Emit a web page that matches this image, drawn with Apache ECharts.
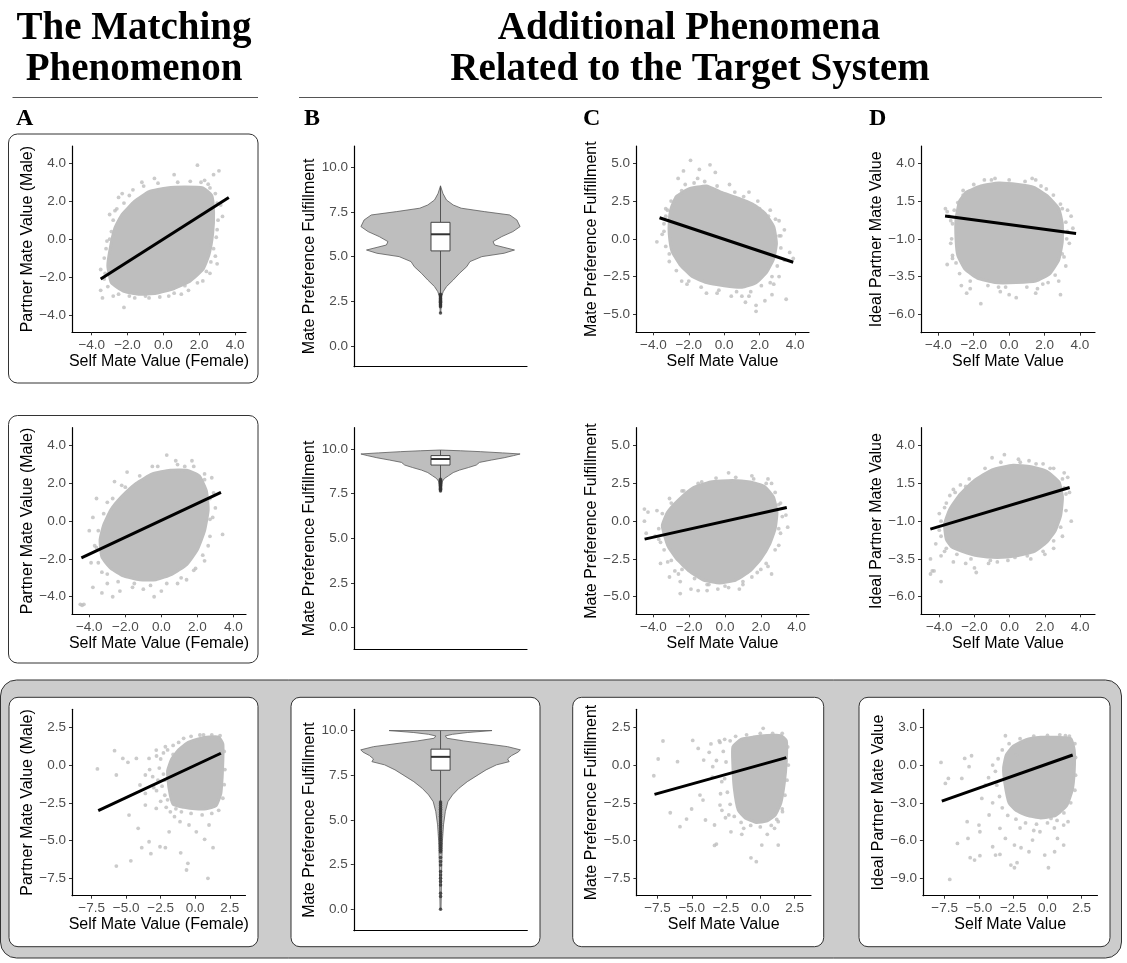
<!DOCTYPE html>
<html><head><meta charset="utf-8">
<script src="https://cdn.jsdelivr.net/npm/echarts@6/dist/echarts.min.js"></script>
<style>html,body{margin:0;padding:0;background:#fff}#c{width:1127px;height:963px}</style>
</head><body><div id="c"></div>
<script>
// ---------- tick labels ----------
const ticksMV4 = [-4, -2, 0, 2, 4];
const ticksMPF5 = [-5, -2.5, 0, 2.5, 5];
const ticksIPMV = [-6, -3.5, -1, 1.5, 4];
const ticksMPF10 = [0, 2.5, 5, 7.5, 10];
const ticksMV25 = [-7.5, -5, -2.5, 0, 2.5];
const ticksIPMV3 = [-9, -6, -3, 0, 3];

// ---------- axis titles ----------
const nameSelfF = 'Self Mate Value (Female)';
const namePartnerM = 'Partner Mate Value (Male)';
const nameSelf = 'Self Mate Value';
const nameMPF = 'Mate Preference Fulfillment';
const nameIPMV = 'Ideal Partner Mate Value';

// ---------- row 1 ----------
const A1_hull = [[-2.9,-2.3],[-3.1,-1.4],[-2.95,-0.4],[-2.7,0.6],[-2.3,1.3],[-1.6,2.0],[-0.8,2.5],[0.2,2.7],[1.2,2.75],[2.2,2.7],[2.7,2.3],[2.8,1.4],[2.75,0.3],[2.55,-0.8],[2.2,-1.6],[1.5,-2.2],[0.6,-2.6],[-0.4,-2.85],[-1.4,-2.9],[-2.2,-2.75]];
const A1_pts = [[3.1,3.6],[2.8,3.4],[2.3,3.1],[1.9,3.9],[0.6,3.4],[-0.5,3.2],[-1.2,3.0],[-1.7,2.6],[-2.5,2.2],[-2.7,1.5],[-3.0,1.3],[3.3,1.2],[3.2,1.8],[3.0,0.5],[2.9,-0.9],[2.6,-1.8],[2.2,-2.2],[1.4,-2.7],[0.3,-3.0],[-0.8,-3.1],[-1.6,-3.1],[-2.2,-3.6],[-2.8,-3.0],[-3.4,-3.1],[-3.5,-2.7],[-3.3,-2.1],[-3.5,-1.6],[-3.2,-0.5],[-3.0,0.0],[1.0,-2.9],[3.0,-1.3],[2.5,2.9],
  [-2.6,1.6],[-2.2,1.9],[-1.9,2.3],[-1.1,2.8],[-0.3,2.95],[0.8,3.0],[1.5,3.05],[2.1,3.0],[2.6,2.7],[2.9,2.4],[3.0,1.9],[3.05,1.0],[2.95,0.1],[2.8,-0.5],[2.65,-1.2],[2.4,-1.7],[1.9,-2.3],[1.2,-2.45],[0.6,-2.85],[-0.2,-3.05],[-1.0,-3.0],[-1.9,-3.0],[-2.5,-2.9],[-3.1,-2.5],[-3.25,-1.8],[-3.3,-1.0],[-3.15,-0.1],[-2.9,0.4],[-2.8,1.0],[-2.3,2.4]];
const A1_fit = [[-3.5,-2.1],[3.65,2.2]];

const B1_density = [[8.96,0],[8.54,0.03],[8.17,0.075],[7.89,0.16],[7.71,0.26],[7.52,0.55],[7.33,0.87],[7.05,0.96],[6.68,1.0],[6.4,0.91],[6.12,0.77],[5.84,0.66],[5.65,0.68],[5.37,0.93],[5.19,0.8],[5.0,0.52],[4.72,0.37],[4.44,0.33],[4.07,0.24],[3.69,0.16],[3.32,0.075],[3.04,0.034],[2.76,0.013],[1.85,0.004]];
const B1_box = [2.92, 5.32, 6.25, 6.92, 8.96];
const B1_out = [2.9,2.85,2.8,2.75,2.7,2.65,2.6,2.55,2.5,2.45,2.4,2.35,2.3,2.25,2.2,1.85];

const C1_hull = [[-3.0,2.0],[-2.7,2.8],[-2.0,3.3],[-1.0,3.5],[-0.2,3.1],[0.8,2.7],[1.6,2.3],[2.3,1.7],[2.8,0.8],[2.95,-0.3],[2.8,-1.3],[2.4,-2.2],[1.8,-2.9],[1.0,-3.2],[0.0,-3.1],[-1.0,-2.9],[-1.8,-2.5],[-2.5,-1.7],[-2.95,-0.8],[-3.1,0.3],[-3.1,1.2]];
const C1_pts = [[-1.9,5.2],[-0.8,4.9],[-0.5,4.4],[-1.4,4.6],[-2.3,4.5],[-2.6,4.0],[-1.5,4.0],[0.3,3.6],[1.4,3.1],[2.0,2.0],[2.6,1.9],[3.1,1.2],[3.4,0.6],[3.2,0.2],[3.7,-0.9],[3.9,-1.3],[3.4,-1.4],[3.1,-2.5],[2.8,-3.0],[2.7,-3.7],[2.3,-4.1],[1.8,-4.4],[1.8,-4.8],[1.2,-4.2],[0.4,-3.8],[-0.4,-3.6],[-1.0,-3.6],[-2.1,-3.0],[-2.4,-2.8],[-3.1,-1.0],[-3.8,-0.2],[-3.5,0.3],[-3.4,1.0],[-3.2,1.9],[-3.3,2.0],[3.5,-4.0],[1.0,-3.8],
  [-3.3,1.5],[-3.0,2.5],[-2.4,3.2],[-1.7,3.7],[-1.1,3.8],[-0.4,3.5],[0.6,3.1],[1.1,2.8],[1.9,2.5],[2.5,1.5],[2.9,1.3],[3.1,0.2],[3.2,-0.6],[3.0,-1.8],[2.7,-2.5],[2.1,-3.1],[1.5,-3.5],[0.7,-3.5],[-0.3,-3.4],[-1.3,-3.2],[-2.0,-2.8],[-2.7,-2.1],[-3.1,-1.5],[-3.3,-0.5],[-3.4,0.5],[-2.2,3.6],[2.6,-2.9],[1.4,-3.8]];
const C1_fit = [[-3.65,1.4],[3.9,-1.55]];

const D1_hull = [[-2.8,1.5],[-2.4,2.1],[-1.6,2.5],[-0.6,2.7],[0.5,2.6],[1.4,2.4],[2.2,1.8],[2.8,1.0],[3.0,0.0],[3.0,-1.2],[2.8,-2.4],[2.3,-3.3],[1.5,-3.8],[0.4,-3.9],[-0.8,-3.9],[-1.8,-3.6],[-2.5,-3.0],[-2.9,-2.1],[-3.0,-1.0],[-3.0,0.3]];
const D1_pts = [[-1.4,2.9],[-0.8,3.0],[1.3,3.0],[1.5,2.9],[2.1,2.3],[2.9,1.3],[3.3,0.9],[3.5,0.5],[3.6,-0.3],[3.3,-0.5],[3.4,-1.3],[3.0,-2.0],[3.2,-2.8],[2.8,-3.8],[2.9,-4.7],[1.6,-4.3],[1.5,-4.6],[0.4,-4.9],[-0.6,-4.2],[-1.6,-5.3],[-2.2,-4.3],[-2.4,-4.6],[-2.7,-4.1],[-3.0,-2.6],[-3.5,-2.7],[-3.2,-2.1],[-3.3,-1.3],[-3.3,0.2],[-3.4,0.5],[-3.6,1.0],[-3.5,0.8],[-2.6,1.9],[0.0,-4.7],
  [-2.9,1.4],[-2.6,2.2],[-2.0,2.6],[-1.0,2.9],[0.0,2.9],[0.9,2.8],[1.8,2.5],[2.5,1.9],[3.0,1.0],[3.2,0.1],[3.25,-1.0],[3.1,-2.2],[2.6,-3.4],[1.9,-4.0],[1.0,-4.2],[-0.2,-4.2],[-1.2,-4.1],[-2.2,-3.8],[-2.8,-3.3],[-3.2,-2.3],[-3.25,-1.0],[-3.2,0.0],[-3.1,0.9],[2.2,-3.9],[-0.5,-4.5]];
const D1_fit = [[-3.62,0.51],[3.78,-0.64]];

// ---------- row 2 ----------
const A2_hull = [[-3.3,-1.9],[-3.4,-1.0],[-3.2,-0.2],[-2.8,0.6],[-2.2,1.3],[-1.4,2.0],[-0.5,2.5],[0.5,2.7],[1.4,2.7],[2.1,2.4],[2.5,1.6],[2.6,0.6],[2.4,-0.5],[2.0,-1.5],[1.4,-2.3],[0.6,-2.8],[-0.3,-3.1],[-1.2,-3.1],[-2.1,-2.9],[-2.8,-2.5]];
const A2_pts = [[0.3,3.5],[0.8,3.2],[1.7,3.2],[1.3,2.9],[-0.5,2.9],[-1.9,2.6],[-2.6,2.1],[-2.2,1.9],[2.4,2.5],[2.8,2.3],[2.9,1.5],[3.0,0.7],[2.7,0.1],[3.4,-0.7],[2.6,-1.3],[2.4,-2.1],[1.9,-2.5],[1.4,-3.1],[0.9,-3.3],[0.0,-3.7],[-0.4,-4.0],[-1.0,-3.6],[-1.6,-3.5],[-2.3,-3.7],[-2.7,-4.0],[-3.0,-3.3],[-3.8,-3.5],[-3.3,-2.7],[-3.7,-1.3],[-4.0,-0.5],[-3.8,0.2],[-3.6,1.2],[-3.0,1.0],[-4.5,-4.4],[-4.4,-4.45],[-4.3,-4.4],
  [-3.5,-2.2],[-3.6,-1.4],[-3.5,-0.5],[-3.2,0.4],[-2.7,1.2],[-2.0,1.8],[-1.2,2.4],[-0.2,2.9],[0.9,3.0],[1.8,2.9],[2.4,2.2],[2.7,1.2],[2.85,0.2],[2.7,-0.8],[2.3,-1.8],[1.8,-2.6],[1.1,-3.0],[0.3,-3.3],[-0.6,-3.4],[-1.5,-3.3],[-2.4,-3.2],[-3.0,-2.8],[-3.9,-2.2],[-3.3,-3.8]];
const A2_fit = [[-4.44,-1.94],[3.31,1.52]];

const B2_density = [[9.94,0],[9.9,0.25],[9.85,0.5],[9.78,0.78],[9.72,1.0],[9.63,0.92],[9.51,0.8],[9.38,0.64],[9.25,0.49],[9.1,0.45],[8.96,0.35],[8.82,0.24],[8.68,0.16],[8.5,0.1],[8.35,0.05],[8.2,0.025],[7.65,0.006]];
const B2_box = [8.3, 9.1, 9.44, 9.63, 9.94];
const B2_out = [8.3,8.25,8.2,8.15,8.1,8.05,8.0,7.95,7.9,7.85,7.8,7.75,7.7,7.65];

const C2_hull = [[-3.5,-0.3],[-3.2,0.6],[-2.6,1.4],[-1.8,2.2],[-0.8,2.6],[0.4,2.7],[1.4,2.6],[2.2,2.3],[2.7,1.6],[2.9,0.6],[2.8,-0.5],[2.5,-1.5],[2.0,-2.5],[1.4,-3.3],[0.6,-3.9],[-0.3,-4.1],[-1.2,-3.9],[-2.0,-3.3],[-2.7,-2.5],[-3.2,-1.6]];
const C2_pts = [[0.2,3.2],[1.5,3.0],[2.4,2.8],[2.6,2.5],[-1.3,2.6],[-2.4,2.0],[-3.1,1.5],[-4.5,0.8],[-4.3,0.6],[-4.5,0.0],[-3.8,0.7],[-3.9,-1.0],[-4.4,-0.8],[-3.6,-1.4],[-3.6,-2.8],[-3.2,-2.7],[-3.1,-3.7],[-2.6,-3.5],[-2.5,-4.0],[-1.9,-4.5],[-1.5,-4.6],[-1.0,-4.2],[-0.4,-4.5],[0.2,-4.4],[1.0,-4.2],[1.5,-3.7],[2.0,-3.2],[2.4,-3.0],[2.6,-3.5],[3.0,-1.6],[3.0,-0.5],[3.5,-0.4],[3.4,0.4],[3.0,1.1],[-2.5,-4.8],
  [-3.7,-0.5],[-3.5,0.5],[-3.0,1.2],[-2.3,2.0],[-1.5,2.5],[-0.5,2.85],[0.6,2.9],[1.6,2.8],[2.3,2.5],[2.8,1.9],[3.1,1.2],[3.2,0.3],[3.1,-0.8],[2.8,-1.9],[2.3,-2.8],[1.8,-3.4],[1.0,-4.0],[0.0,-4.3],[-0.9,-4.2],[-1.7,-3.8],[-2.4,-3.2],[-3.0,-2.6],[-3.4,-1.9],[-3.7,-1.2],[-2.8,-3.3],[0.8,-4.5],[-1.0,-4.6]];
const C2_fit = [[-4.49,-1.19],[3.45,0.9]];

const D2_hull = [[-3.6,-2.2],[-3.7,-1.2],[-3.4,-0.2],[-2.8,0.8],[-2.0,1.7],[-1.0,2.4],[0.2,2.7],[1.2,2.6],[2.1,2.3],[2.8,1.6],[3.0,0.6],[2.9,-0.6],[2.6,-1.6],[2.1,-2.4],[1.4,-3.0],[0.4,-3.3],[-0.7,-3.4],[-1.8,-3.3],[-2.7,-3.0],[-3.3,-2.7]];
const D2_pts = [[-1.0,3.2],[-0.3,3.4],[0.5,3.1],[1.1,3.0],[1.9,2.8],[2.5,2.5],[3.1,2.2],[3.3,1.9],[3.1,1.2],[3.4,0.9],[3.5,-1.0],[3.0,-2.0],[2.5,-2.8],[1.2,-3.5],[0.3,-3.4],[-0.7,-3.7],[-1.2,-3.8],[-2.0,-4.1],[-1.9,-4.4],[-2.5,-3.8],[-3.2,-3.7],[-3.7,-3.0],[-4.2,-2.5],[-4.5,-3.5],[-4.5,-4.5],[-4.4,-4.3],[-4.3,-4.3],[-3.9,-5.0],[-3.9,-3.3],[-4.0,-1.6],[-4.0,-0.5],[-3.6,0.2],[-3.4,0.7],[-3.2,1.1],[-2.5,1.3],
  [-3.9,-2.0],[-3.9,-1.0],[-3.7,-0.1],[-3.1,0.9],[-2.3,1.8],[-1.4,2.5],[-0.5,2.9],[0.6,2.9],[1.5,2.8],[2.3,2.5],[3.0,1.8],[3.2,0.8],[3.2,-0.3],[2.9,-1.4],[2.5,-2.3],[1.9,-3.0],[1.0,-3.3],[-0.1,-3.6],[-1.1,-3.6],[-2.2,-3.5],[-3.0,-3.2],[-3.6,-2.8],[-2.8,1.4],[2.0,-3.2]];
const D2_fit = [[-4.51,-1.53],[3.41,1.23]];

// ---------- row 3 ----------
const A3_hull = [[-1.6,-2.6],[-1.9,-1.5],[-2.0,-0.4],[-1.7,0.4],[-1.2,1.0],[-0.5,1.5],[0.3,1.75],[1.0,1.85],[1.7,1.85],[2.0,1.4],[2.0,0.3],[1.95,-0.8],[1.85,-1.9],[1.5,-2.7],[0.8,-2.9],[0.0,-2.9],[-0.8,-2.8]];
const A3_pts = [[-7.08,-0.26],[-5.84,0.95],[-5.71,-0.66],[-5.24,0.44],[-4.87,0.18],[-4.26,0.44],[-4.79,-3.31],[-4.13,-4.19],[-3.87,-5.47],[-4.66,-6.34],[-5.71,-6.69],[-3.34,-5.08],[-2.55,-5.41],[-2.16,-5.47],[-3.21,-5.87],[-1.05,-5.81],[-0.63,-6.95],[-0.53,-6.51],[0.92,-7.5],[1.29,-5.47],[0.68,-4.92],[0.08,-4.42],[1.0,-3.97],[-0.45,-3.97],[-1.1,-3.75],[-1.89,-4.42],[-1.5,-3.42],[-2.82,-2.87],[-3.61,-2.65],[-4.0,-1.32],[-3.61,-1.88],[-3.08,-0.77],[-3.61,-0.66],[-3.34,0.44],[-2.82,0.99],[-2.16,1.21],[-0.84,1.77],[0.34,1.99],
  [-2.8,0.6],[-2.5,0.4],[-2.3,0.8],[-2.6,-0.2],[-2.3,-0.6],[-2.7,-1.0],[-2.4,-1.4],[-2.8,-1.7],[-2.2,-2.0],[-2.5,-2.4],[-2.1,-2.8],[-1.8,-3.1],[-2.0,1.0],[-1.6,1.3],[-1.2,1.5],[-0.3,1.9],[0.6,2.0],[1.2,2.0],[1.8,1.95],[2.1,0.9],[2.15,-0.3],[2.1,-1.3],[2.0,-2.2],[1.7,-3.0],[1.2,-3.2],[0.5,-3.3],[-0.3,-3.2],[-1.0,-3.1],[-1.4,-2.9],[-3.0,-1.5],[-3.3,-0.3],[-2.2,-1.0],[-2.0,-2.3],[-1.6,0.7]];
const A3_fit = [[-7.02,-3.02],[1.86,0.78]];

const B3_density = [[10.0,0.645],[9.89,0.335],[9.79,0.15],[9.7,0.06],[9.57,0.08],[9.42,0.29],[9.29,0.52],[9.1,0.84],[8.92,1.0],[8.79,0.97],[8.6,0.89],[8.41,0.84],[8.26,0.86],[8.08,0.7],[7.8,0.57],[7.52,0.47],[7.14,0.335],[6.77,0.23],[6.4,0.15],[6.02,0.092],[5.47,0.06],[4.72,0.037],[3.79,0.023],[2.5,0.015],[0.0,0.006]];
const B3_box = [6.0, 7.78, 8.53, 8.96, 10.0];
const B3_out = [6.0,5.9,5.8,5.7,5.6,5.5,5.4,5.3,5.2,5.1,5.0,4.9,4.8,4.7,4.6,4.5,4.4,4.3,4.2,4.1,4.0,3.9,3.8,3.7,3.6,3.5,3.4,3.3,3.2,2.89,2.67,2.48,2.11,1.92,1.74,1.55,1.36,0.9,0.71,0.0];

const C3_hull = [[-1.6,-3.0],[-1.9,-1.5],[-2.0,0.0],[-2.0,1.2],[-1.4,1.7],[-0.5,1.85],[0.5,1.95],[1.5,1.95],[1.9,1.6],[1.9,0.3],[1.75,-1.2],[1.5,-2.5],[1.1,-3.3],[0.5,-3.7],[-0.3,-3.8],[-1.1,-3.5]];
const C3_pts = [[-7.77,-0.71],[-7.1,1.59],[-7.45,0.4],[-6.04,0.22],[-6.57,-3.16],[-5.86,-4.08],[-5.38,-3.58],[-4.93,1.63],[-5.01,-2.91],[-4.4,-1.99],[-4.18,-2.32],[-3.34,-5.32],[-3.2,-5.23],[-4.0,-3.64],[-3.34,-3.97],[-2.54,-3.49],[-2.14,-4.42],[-1.35,-4.59],[-1.21,-4.19],[-0.68,-6.14],[-0.29,-6.4],[0.11,-5.3],[1.31,-5.3],[0.51,-4.59],[1.04,-4.19],[0.21,2.43],[-4.13,0.33],[-3.73,0.84],[-3.47,-0.11],[-4.53,1.1],[-2.94,1.5],[-2.81,-1.1],[-2.94,-2.65],[1.62,-3.09],[1.31,-3.75],
  [-3.0,1.6],[-2.6,1.7],[-2.2,1.6],[-1.8,1.9],[-1.0,2.0],[0.0,2.1],[0.9,2.1],[1.6,2.1],[2.0,1.2],[2.05,0.0],[1.95,-1.0],[1.8,-2.0],[1.6,-2.9],[1.2,-3.6],[0.8,-4.0],[0.0,-4.1],[-0.7,-4.0],[-1.4,-3.8],[-1.9,-3.4],[-2.2,-2.6],[-2.4,-1.8],[-2.6,-0.9],[-2.5,0.2],[-2.7,0.9],[-3.2,0.3],[-3.5,-0.8],[-2.9,-1.9],[-2.8,-3.0],[-3.6,1.4],[-2.3,-3.3]];
const C3_fit = [[-7.72,-1.94],[1.9,0.49]];

const D3_hull = [[-2.8,-3.0],[-3.1,-1.5],[-3.2,-0.2],[-3.0,0.8],[-2.5,1.5],[-1.6,2.0],[-0.5,2.2],[0.8,2.2],[1.7,2.1],[1.95,1.2],[1.95,-0.5],[1.8,-2.0],[1.4,-3.2],[0.6,-4.0],[-0.5,-4.2],[-1.5,-4.0],[-2.3,-3.6]];
const D3_pts = [[-7.77,0.21],[-7.45,-1.46],[-7.23,-1.06],[-7.13,-9.09],[-6.57,-6.23],[-6.25,-1.06],[-6.04,0.53],[-5.72,-0.13],[-5.54,0.74],[-5.86,-4.5],[-5.8,-5.83],[-5.64,-7.36],[-5.32,-7.55],[-4.93,-7.2],[-5.0,-4.77],[-4.93,-5.3],[-4.26,-3.97],[-4.0,-6.49],[-3.79,-7.15],[-3.47,-7.1],[-3.47,-5.03],[-3.07,-5.83],[-2.67,-7.95],[-2.41,-8.16],[-2.22,-7.76],[-2.41,-6.36],[-1.93,-6.57],[-1.35,-6.89],[-1.09,-5.96],[-0.55,-5.3],[-0.2,-7.15],[0.07,-8.16],[0.52,-6.89],[0.73,-5.83],[1.18,-6.36],[-3.07,2.33],[-2.27,0.79],[1.31,2.33],[-4.79,-2.65],[-4.53,-1.59],[0.26,-4.24],[1.18,-4.77],
  [-3.6,0.5],[-3.8,-0.5],[-3.7,-1.6],[-3.5,-2.5],[-3.3,-3.4],[-2.9,-4.0],[-2.3,-4.3],[-1.6,-4.6],[-0.8,-4.7],[0.0,-4.6],[0.7,-4.4],[1.2,-3.8],[1.7,-3.0],[2.0,-2.0],[2.05,-0.8],[2.05,0.6],[2.0,1.7],[1.6,2.3],[0.9,2.4],[0.0,2.35],[-1.0,2.3],[-2.0,2.1],[-2.8,1.7],[-3.3,1.2],[-4.0,0.0],[-4.3,-1.0],[-4.0,-3.0],[-2.0,-5.0],[-1.0,-5.2],[0.5,-5.0],[1.5,-4.5]];
const D3_fit = [[-7.71,-2.86],[1.84,0.8]];

// ---------- layout (positions / styles) ----------
const SANS = "'Liberation Sans', Arial, Helvetica, sans-serif";
const SERIF = "'Liberation Serif', 'Times New Roman', serif";
const PT = '#bebebe';

const panels = [
  {kind:'s', g:[72,146,174,186.3], x:[-5.10,4.61], y:[-4.91,4.91], xt:ticksMV4, yt:ticksMV4, xn:nameSelfF, yn:namePartnerM, hull:A1_hull, pts:A1_pts, fit:A1_fit},
  {kind:'v', g:[354,146,173,220.7], y:[-1.16,11.19], yt:ticksMPF10, yn:nameMPF, dens:B1_density, box:B1_box, out:B1_out},
  {kind:'s', g:[636,146,173,186.3], x:[-4.98,4.79], y:[-6.19,6.15], xt:ticksMV4, yt:ticksMPF5, xn:nameSelf, yn:nameMPF, hull:C1_hull, pts:C1_pts, fit:C1_fit},
  {kind:'s', g:[921,146,174,186.7], x:[-4.98,4.85], y:[-7.22,5.15], xt:ticksMV4, yt:ticksIPMV, xn:nameSelf, yn:nameIPMV, hull:D1_hull, pts:D1_pts, fit:D1_fit},

  {kind:'s', g:[72,427.7,174,186.6], x:[-4.96,4.70], y:[-4.93,4.95], xt:ticksMV4, yt:ticksMV4, xn:nameSelfF, yn:namePartnerM, hull:A2_hull, pts:A2_pts, fit:A2_fit},
  {kind:'v', g:[354,427.7,173,221.3], y:[-1.19,11.19], yt:ticksMPF10, yn:nameMPF, dens:B2_density, box:B2_box, out:B2_out},
  {kind:'s', g:[636,427.7,173,186.6], x:[-4.97,4.69], y:[-6.17,6.19], xt:ticksMV4, yt:ticksMPF5, xn:nameSelf, yn:nameMPF, hull:C2_hull, pts:C2_pts, fit:C2_fit},
  {kind:'s', g:[921,427.7,174,186.6], x:[-5.04,4.85], y:[-7.17,5.19], xt:ticksMV4, yt:ticksIPMV, xn:nameSelf, yn:nameIPMV, hull:D2_hull, pts:D2_pts, fit:D2_fit},

  {kind:'s', g:[72,709.3,173.5,186.4], x:[-8.92,3.64], y:[-8.65,3.69], xt:ticksMV25, yt:ticksMV25, xn:nameSelfF, yn:namePartnerM, hull:A3_hull, pts:A3_pts, fit:A3_fit},
  {kind:'v', g:[353.8,709.3,173.5,221.4], y:[-1.2,11.19], yt:ticksMPF10, yn:nameMPF, dens:B3_density, box:B3_box, out:B3_out},
  {kind:'s', g:[636.4,709.3,174.6,186.4], x:[-9.04,3.70], y:[-8.65,3.69], xt:ticksMV25, yt:ticksMV25, xn:nameSelf, yn:nameMPF, hull:C3_hull, pts:C3_pts, fit:C3_fit},
  {kind:'s', g:[922.9,709.3,174.6,186.4], x:[-9.09,3.65], y:[-10.38,4.43], xt:ticksMV25, yt:ticksIPMV3, xn:nameSelf, yn:nameIPMV, hull:D3_hull, pts:D3_pts, fit:D3_fit}
];

const fmt = v => (v < 0 ? '\u2212' : '') + Math.abs(v).toFixed(1);
const VMAX = 0.92, BOXW = 0.11;

const grids = [], xAxes = [], yAxes = [], series = [];
panels.forEach((P, i) => {
  grids.push({left:P.g[0], top:P.g[1], width:P.g[2], height:P.g[3]});
  const isV = P.kind === 'v';
  xAxes.push({
    type:'value', gridIndex:i, min: isV ? -1 : P.x[0], max: isV ? 1 : P.x[1],
    axisLine:{onZero:false, lineStyle:{color:'#000', width:1.2}},
    axisTick:{show:!isV, length:3, lineStyle:{color:'#333', width:1}, customValues: isV ? undefined : P.xt},
    axisLabel:{show:!isV, margin:6, color:'#4d4d4d', fontSize:13.5, fontFamily:SANS, formatter:fmt, customValues: isV ? undefined : P.xt},
    splitLine:{show:false},
    name: isV ? '' : P.xn, nameLocation:'middle', nameGap:21,
    nameTextStyle:{color:'#000', fontSize:16, fontFamily:SANS}
  });
  yAxes.push({
    type:'value', gridIndex:i, min:P.y[0], max:P.y[1],
    axisLine:{onZero:false, lineStyle:{color:'#000', width:1.2}},
    axisTick:{show:true, length:3, lineStyle:{color:'#333', width:1}, customValues:P.yt},
    axisLabel:{margin:6, color:'#4d4d4d', fontSize:13.5, fontFamily:SANS, formatter:fmt, customValues:P.yt},
    splitLine:{show:false},
    name:P.yn, nameLocation:'middle', nameGap:36,
    nameTextStyle:{color:'#000', fontSize:16, fontFamily:SANS}
  });
  if (!isV) {
    series.push({type:'custom', xAxisIndex:i, yAxisIndex:i, silent:true, z:2,
      data:[P.hull[0]],
      renderItem:(p, api) => ({type:'polygon', shape:{points:P.hull.map(q => api.coord(q)), smooth:0.15},
        style:{fill:PT, stroke:PT, lineWidth:3}})});
    series.push({type:'scatter', xAxisIndex:i, yAxisIndex:i, silent:true, z:3,
      data:P.pts, symbolSize:3.8, itemStyle:{color:PT}});
    series.push({type:'line', xAxisIndex:i, yAxisIndex:i, silent:true, z:4,
      data:P.fit, symbol:'none', lineStyle:{color:'#000', width:3}});
  } else {
    series.push({type:'custom', xAxisIndex:i, yAxisIndex:i, silent:true, z:2,
      data:[[0, P.dens[0][0]]],
      renderItem:(p, api) => {
        const right = P.dens.map(d => api.coord([d[1]*VMAX, d[0]]));
        const left = P.dens.slice().reverse().map(d => api.coord([-d[1]*VMAX, d[0]]));
        return {type:'polygon', shape:{points:right.concat(left)},
          style:{fill:'#bebebe', stroke:'#5a5a5a', lineWidth:0.8}};
      }});
    series.push({type:'custom', xAxisIndex:i, yAxisIndex:i, silent:true, z:3,
      data:[[0, P.box[2]]],
      renderItem:(p, api) => {
        const b = P.box;
        const tl = api.coord([-BOXW, b[3]]), br = api.coord([BOXW, b[1]]);
        const mL = api.coord([-BOXW, b[2]]), mR = api.coord([BOXW, b[2]]);
        const lo = api.coord([0, b[0]]), q1 = api.coord([0, b[1]]), q3 = api.coord([0, b[3]]), hi = api.coord([0, b[4]]);
        return {type:'group', children:[
          {type:'line', shape:{x1:hi[0], y1:hi[1], x2:q3[0], y2:q3[1]}, style:{stroke:'#555', lineWidth:1}},
          {type:'line', shape:{x1:q1[0], y1:q1[1], x2:lo[0], y2:lo[1]}, style:{stroke:'#555', lineWidth:1}},
          {type:'rect', shape:{x:tl[0], y:tl[1], width:br[0]-tl[0], height:br[1]-tl[1]}, style:{fill:'#fff', stroke:'#444', lineWidth:1}},
          {type:'line', shape:{x1:mL[0], y1:mL[1], x2:mR[0], y2:mR[1]}, style:{stroke:'#333', lineWidth:2}}
        ]};
      }});
    series.push({type:'scatter', xAxisIndex:i, yAxisIndex:i, silent:true, z:4,
      data:P.out.map(v => [0, v]), symbolSize:3.5, itemStyle:{color:'#333'}});
  }
});

const boxStyle = {fill:'#fff', stroke:'#333', lineWidth:1};
const graphic = [
  {type:'rect', z:-20, shape:{x:0.5, y:680, width:1121, height:278, r:16}, style:{fill:'#cccccc', stroke:'#333', lineWidth:1}},
  {type:'rect', z:-10, shape:{x:8.5, y:134, width:249.5, height:249, r:9}, style:boxStyle},
  {type:'rect', z:-10, shape:{x:8.5, y:415.5, width:249.5, height:247.5, r:9}, style:boxStyle},
  {type:'rect', z:-10, shape:{x:9, y:697.3, width:249, height:249.4, r:9}, style:boxStyle},
  {type:'rect', z:-10, shape:{x:291, y:697.3, width:249, height:249.4, r:9}, style:boxStyle},
  {type:'rect', z:-10, shape:{x:572.7, y:697.3, width:251, height:249.4, r:9}, style:boxStyle},
  {type:'rect', z:-10, shape:{x:859, y:697.3, width:251, height:249.4, r:9}, style:boxStyle},
  {type:'line', shape:{x1:12.5, y1:97.5, x2:258, y2:97.5}, style:{stroke:'#555', lineWidth:1.2}},
  {type:'line', shape:{x1:299, y1:97.5, x2:1102, y2:97.5}, style:{stroke:'#555', lineWidth:1.2}},
  {type:'text', style:{text:'The Matching', x:134, y:29, textAlign:'center', textVerticalAlign:'middle', font:'bold 39px ' + SERIF, fill:'#000'}},
  {type:'text', style:{text:'Phenomenon', x:134, y:70, textAlign:'center', textVerticalAlign:'middle', font:'bold 39px ' + SERIF, fill:'#000'}},
  {type:'text', style:{text:'Additional Phenomena', x:689, y:29, textAlign:'center', textVerticalAlign:'middle', font:'bold 39px ' + SERIF, fill:'#000'}},
  {type:'text', style:{text:'Related to the Target System', x:690, y:70, textAlign:'center', textVerticalAlign:'middle', font:'bold 39px ' + SERIF, fill:'#000'}},
  {type:'text', style:{text:'A', x:16, y:119, textAlign:'left', textVerticalAlign:'middle', font:'bold 24px ' + SERIF, fill:'#000'}},
  {type:'text', style:{text:'B', x:304, y:119, textAlign:'left', textVerticalAlign:'middle', font:'bold 24px ' + SERIF, fill:'#000'}},
  {type:'text', style:{text:'C', x:583, y:119, textAlign:'left', textVerticalAlign:'middle', font:'bold 24px ' + SERIF, fill:'#000'}},
  {type:'text', style:{text:'D', x:869, y:119, textAlign:'left', textVerticalAlign:'middle', font:'bold 24px ' + SERIF, fill:'#000'}}
];

const chart = echarts.init(document.getElementById('c'), null, {renderer:'canvas'});
chart.setOption({
  animation:false,
  backgroundColor:'#fff',
  grid:grids, xAxis:xAxes, yAxis:yAxes, series:series, graphic:graphic
});
</script></body></html>
